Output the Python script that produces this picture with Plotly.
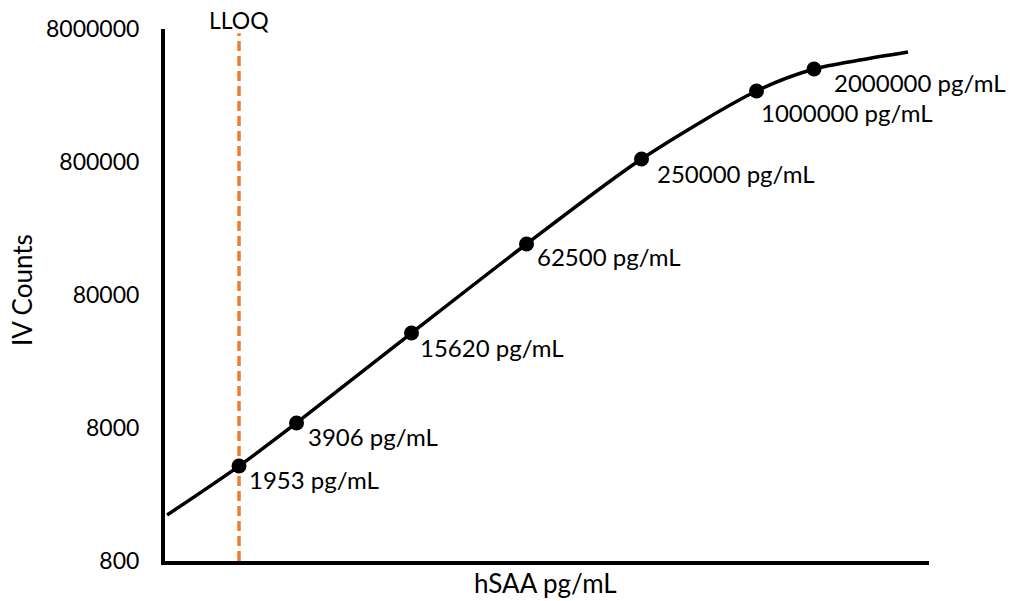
import math
import plotly.graph_objects as go

# Data
conc = [1953, 3906, 15620, 62500, 250000, 1000000, 2000000]
counts = [4140, 8730, 41400, 193500, 843000, 2735000, 4000000]
point_labels = ["1953 pg/mL", "3906 pg/mL", "15620 pg/mL", "62500 pg/mL",
                "250000 pg/mL", "1000000 pg/mL", "2000000 pg/mL"]

# fitted curve
curve_x = [820, 1953, 3906, 15620, 62500, 250000, 1000000, 2000000, 3480000, 6210000]
curve_y = [1774, 4140, 8730, 41400, 193500, 843000, 2735000, 4000000, 4677000, 5373000]

lloq = 1953
y_tickvals = [800, 8000, 80000, 800000, 8000000]
y_ticktext = ["800", "8000", "80000", "800000", "8000000"]
x_range = [800, 8000000]
y_range = [800, 8000000]

# label pixel offsets (layout only)
label_dx = [9, 10, 7, 9, 14, 3, 19]
label_dy = [13, 14, 14, 13, 15, 21, 13]

FONT = "Lato"
FS = 23
FS_LABEL = 24
FS_TITLE = 26

fig = go.Figure()
fig.add_trace(go.Scatter(x=curve_x, y=curve_y, mode="lines",
                         line=dict(color="black", width=3.5, shape="spline", smoothing=0.8),
                         hoverinfo="skip", showlegend=False))
fig.add_trace(go.Scatter(x=conc, y=counts, mode="markers",
                         marker=dict(color="black", size=15),
                         showlegend=False))

fig.add_shape(type="line", xref="x", yref="paper", x0=lloq, x1=lloq, y0=0, y1=0.992,
              line=dict(color="#ED7D31", width=3.5, dash="10px,5px"), layer="below")

annotations = []
for c, v, t, dx, dy in zip(conc, counts, point_labels, label_dx, label_dy):
    annotations.append(dict(x=math.log10(c), y=math.log10(v), xref="x", yref="y", text=t,
                            showarrow=False, xanchor="left", yanchor="middle",
                            xshift=dx - 1, yshift=-dy,
                            font=dict(family=FONT, size=FS_LABEL, color="black")))
annotations.append(dict(x=math.log10(lloq), y=1, xref="x", yref="paper", text="LLOQ",
                        showarrow=False, xanchor="center", yanchor="middle", yshift=9,
                        font=dict(family=FONT, size=FS, color="black")))
annotations.append(dict(x=0, y=0.5, xref="paper", yref="paper", text="IV Counts",
                        showarrow=False, xanchor="center", yanchor="middle", textangle=-90,
                        xshift=-143, yshift=5, font=dict(family=FONT, size=FS_TITLE, color="black")))
annotations.append(dict(x=0.5, y=0, xref="paper", yref="paper", text="hSAA pg/mL",
                        showarrow=False, xanchor="center", yanchor="middle",
                        xshift=-2, yshift=-22, font=dict(family=FONT, size=FS_TITLE, color="black")))

fig.update_layout(
    width=1010, height=601,
    margin=dict(l=165, r=81, t=29, b=40),
    paper_bgcolor="white", plot_bgcolor="white",
    font=dict(family=FONT, size=FS, color="black"),
    annotations=annotations,
    xaxis=dict(type="log", range=[math.log10(x_range[0]), math.log10(x_range[1])],
               showgrid=False, zeroline=False, showticklabels=False, ticks="",
               showline=True, linecolor="black", linewidth=4),
    yaxis=dict(type="log", range=[math.log10(y_range[0]), math.log10(y_range[1])],
               showgrid=False, zeroline=False, tickmode="array",
               tickvals=y_tickvals, ticktext=y_ticktext, ticks="",
               ticklabelstandoff=17,
               showline=True, linecolor="black", linewidth=4),
)

fig.write_html("out.html", config={"displayModeBar": False},
               post_script="document.body.style.margin='0';document.body.style.overflow='hidden';")
